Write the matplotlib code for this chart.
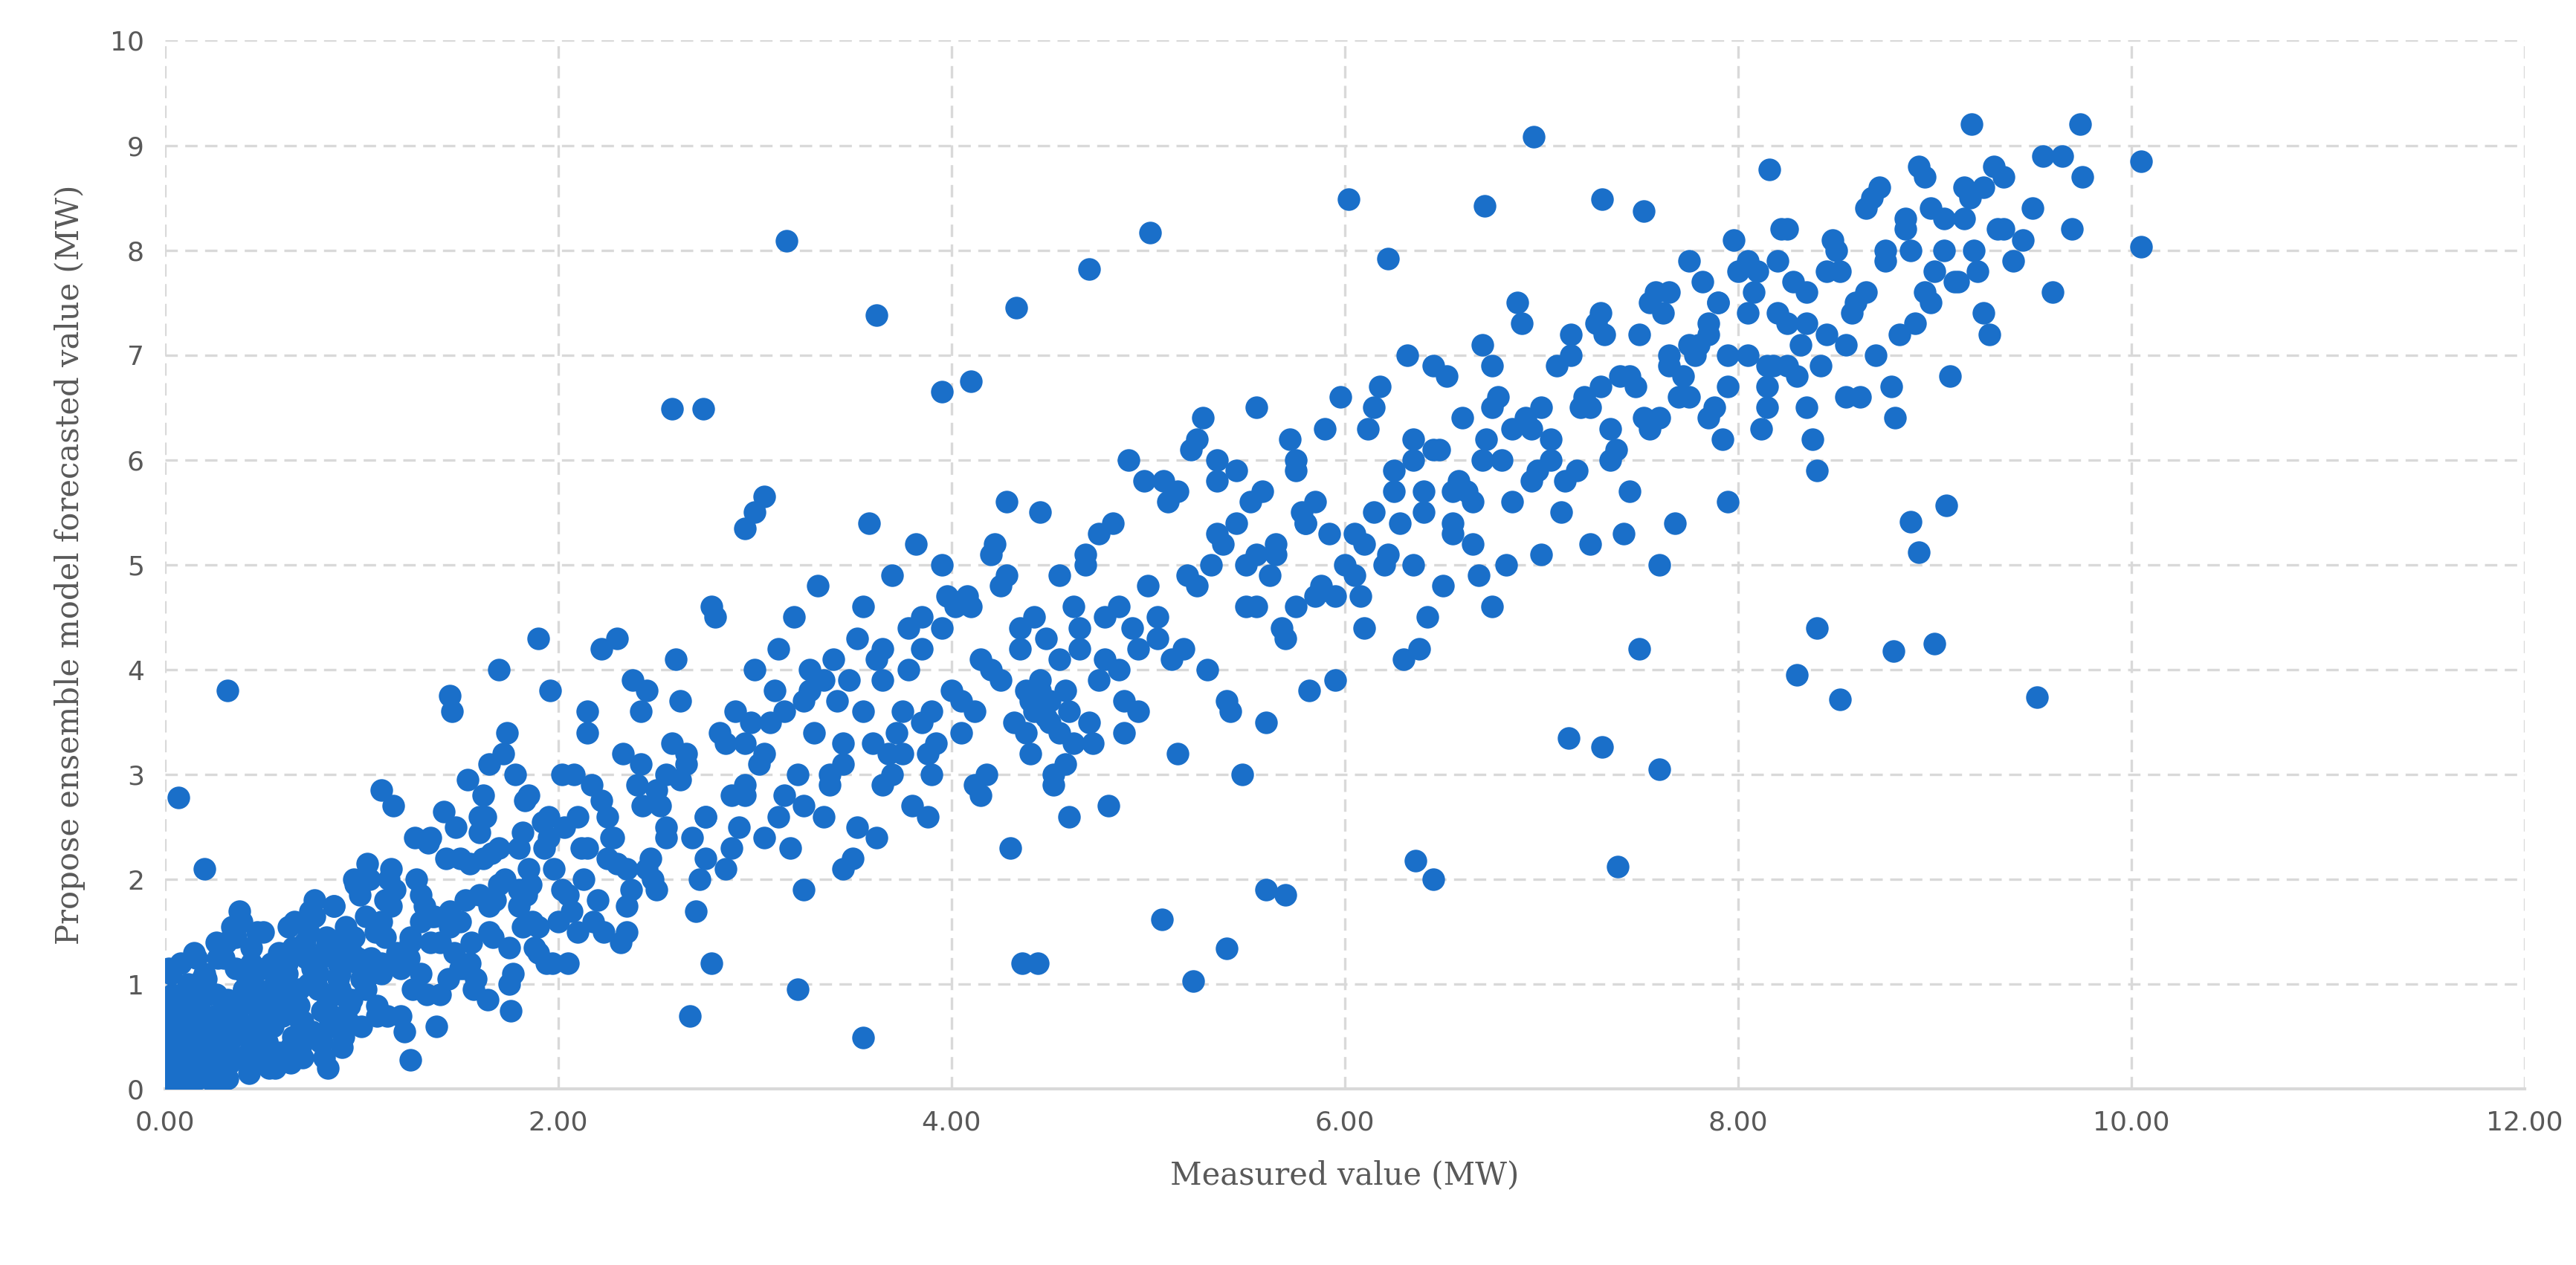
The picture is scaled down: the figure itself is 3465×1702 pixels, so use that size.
import matplotlib.pyplot as plt

# measured (MW) / forecast (MW) pairs
measured = [
    # dense cluster near the origin
    0.02, 0.03, 0.05, 0.04, 0.06, 0.08, 0.02, 0.03, 0.05, 0.07, 0.10, 0.12, 0.09, 0.04, 0.06,
    0.11, 0.14, 0.16, 0.18, 0.13, 0.20, 0.22, 0.25, 0.15, 0.19, 0.24, 0.28, 0.30, 0.33, 0.27,
    0.35, 0.38, 0.40, 0.42, 0.36, 0.45, 0.48, 0.50, 0.52, 0.44, 0.55, 0.58, 0.60, 0.62, 0.57,
    0.65, 0.68, 0.70, 0.72, 0.66, 0.75, 0.78, 0.80, 0.82, 0.77, 0.85, 0.88, 0.90, 0.92, 0.87,
    0.95, 0.98, 1.00, 1.02, 0.96, 0.03, 0.08, 0.12, 0.17, 0.22, 0.26, 0.31, 0.37, 0.41, 0.47,
    0.53, 0.59, 0.63, 0.69, 0.74, 0.81, 0.86, 0.93, 0.99, 1.05, 0.05, 0.10, 0.15, 0.21, 0.29,
    0.34, 0.43, 0.51, 0.61, 0.71, 0.79, 0.89, 0.97, 1.08, 1.12, 0.02, 0.06, 0.09, 0.13, 0.18,
    0.23, 0.32, 0.39, 0.46, 0.54, 0.64, 0.73, 0.84, 0.94, 1.04, 0.07, 0.11, 0.16, 0.26, 0.36,
    0.49, 0.56, 0.67, 0.76, 0.91, 0.04, 0.14, 0.25, 0.38, 0.52, 0.65, 0.83, 1.10, 0.20, 0.45,
    0.02, 0.04, 0.06, 0.08, 0.10, 0.12, 0.14, 0.16, 0.18, 0.20,
    0.22, 0.24, 0.26, 0.28, 0.30, 0.32, 0.34, 0.36, 0.38, 0.40,
    0.42, 0.44, 0.46, 0.48, 0.50, 0.52, 0.54, 0.56, 0.58, 0.60,
    0.62, 0.64, 0.66, 0.68, 0.70, 0.72, 0.74, 0.76, 0.78, 0.80,
    0.82, 0.84, 0.86, 0.88, 0.90, 0.92, 0.94, 0.96, 0.98, 1.00,
    0.05, 0.15, 0.25, 0.35, 0.45, 0.55, 0.65, 0.75, 0.85, 0.95,
    0.03, 0.09, 0.19, 0.29, 0.39, 0.49, 0.59, 0.69, 0.79, 0.89,
    0.01, 0.07, 0.13, 0.21, 0.33, 0.43, 0.53, 0.63, 0.73, 0.83,
    # 1 - 2.5 MW
    1.05, 1.10, 1.15, 1.20, 1.25, 1.30, 1.35, 1.40, 1.45, 1.50, 1.55, 1.60, 1.65, 1.70, 1.75,
    1.80, 1.85, 1.90, 1.95, 2.00, 1.08, 1.18, 1.28, 1.38, 1.48, 1.58, 1.68, 1.78, 1.88, 1.98,
    1.12, 1.22, 1.32, 1.42, 1.52, 1.62, 1.72, 1.82, 1.92, 2.02, 1.14, 1.24, 1.34, 1.44, 1.54,
    1.64, 1.74, 1.84, 1.94, 1.16, 1.26, 1.36, 1.46, 1.56, 1.66, 1.76, 1.86, 1.96, 1.03, 1.50,
    1.70, 1.30, 1.60, 1.90, 1.20, 1.40, 1.80, 1.10, 1.65, 1.45,
    1.02, 1.07, 1.13, 1.17, 1.23, 1.27, 1.33, 1.37, 1.43, 1.47,
    1.53, 1.57, 1.63, 1.67, 1.73, 1.77, 1.83, 1.87, 1.93, 1.97,
    2.03, 2.07, 2.13, 2.17, 2.23, 2.27, 2.33, 2.37, 2.43, 2.47,
    1.05, 1.25, 1.45, 1.65, 1.85, 2.05, 2.25, 2.45, 1.35, 1.55,
    1.15, 1.75, 1.95, 2.15, 2.35, 1.62, 1.82, 2.02, 2.22, 2.42,
    1.10, 1.30, 1.50, 1.70, 1.90, 2.10, 2.30, 2.50, 1.60, 1.80,
    # 2 - 3 MW
    2.05, 2.10, 2.15, 2.20, 2.25, 2.30, 2.35, 2.40, 2.45, 2.50, 2.55, 2.60, 2.65, 2.70, 2.75,
    2.80, 2.85, 2.90, 2.95, 3.00, 2.08, 2.18, 2.28, 2.38, 2.48, 2.58, 2.68, 2.78, 2.88, 2.98,
    2.12, 2.22, 2.32, 2.42, 2.52, 2.62, 2.72, 2.82, 2.92, 2.15, 2.35, 2.55, 2.75, 2.95,
    # 3 - 4 MW
    3.05, 3.10, 3.15, 3.20, 3.25, 3.30, 3.35, 3.40, 3.45, 3.50, 3.55, 3.60, 3.65, 3.70, 3.75,
    3.80, 3.85, 3.90, 3.95, 4.00, 3.08, 3.18, 3.28, 3.38, 3.48, 3.58, 3.68, 3.78, 3.88, 3.98,
    3.12, 3.22, 3.32, 3.42, 3.52, 3.62, 3.72, 3.82, 3.92, 3.25, 3.45, 3.65, 3.85,
    # 4 - 5 MW
    4.05, 4.10, 4.15, 4.20, 4.25, 4.30, 4.35, 4.40, 4.45, 4.50, 4.55, 4.60, 4.65, 4.70, 4.75,
    4.80, 4.85, 4.90, 4.95, 5.00, 4.08, 4.18, 4.28, 4.38, 4.48, 4.58, 4.68, 4.78, 4.88, 4.98,
    4.12, 4.22, 4.32, 4.42, 4.52, 4.62, 4.72, 4.82, 4.92, 4.40, 4.50, 4.60, 4.45, 4.55,
    # 2.5 - 5 MW, extra
    2.55, 2.65, 2.75, 2.85, 2.95, 3.05, 3.15, 3.25, 3.35, 3.45,
    3.55, 3.65, 3.75, 3.85, 3.95, 4.05, 4.15, 4.25, 4.35, 4.45,
    4.55, 4.65, 4.75, 4.85, 4.95, 2.62, 2.88, 3.12, 3.38, 3.62,
    3.88, 4.12, 4.38, 4.62, 4.88, 3.02, 3.28, 3.52, 3.78, 4.02,
    4.28, 4.52, 4.78, 4.42, 4.58, 4.48, 4.68, 3.70, 3.90, 4.20,
    # 5 - 6 MW
    5.05, 5.10, 5.15, 5.20, 5.25, 5.30, 5.35, 5.40, 5.45, 5.50, 5.55, 5.60, 5.65, 5.70, 5.75,
    5.80, 5.85, 5.90, 5.95, 6.00, 5.08, 5.18, 5.28, 5.38, 5.48, 5.58, 5.68, 5.78, 5.88, 5.98,
    5.12, 5.22, 5.32, 5.42, 5.52, 5.62, 5.72, 5.82, 5.92, 5.35, 5.55, 5.75,
    # 6 - 7 MW
    6.05, 6.10, 6.15, 6.20, 6.25, 6.30, 6.35, 6.40, 6.45, 6.50, 6.55, 6.60, 6.65, 6.70, 6.75,
    6.80, 6.85, 6.90, 6.95, 7.00, 6.08, 6.18, 6.28, 6.38, 6.48, 6.58, 6.68, 6.78, 6.88, 6.98,
    6.12, 6.22, 6.32, 6.42, 6.52, 6.62, 6.72, 6.82, 6.92, 6.35, 6.55, 6.75,
    # 7 - 8 MW
    7.05, 7.10, 7.15, 7.20, 7.25, 7.30, 7.35, 7.40, 7.45, 7.50, 7.55, 7.60, 7.65, 7.70, 7.75,
    7.80, 7.85, 7.90, 7.95, 8.00, 7.08, 7.18, 7.28, 7.38, 7.48, 7.58, 7.68, 7.78, 7.88, 7.98,
    7.12, 7.22, 7.32, 7.42, 7.52, 7.62, 7.72, 7.82, 7.92, 7.85, 7.95, 7.75, 7.65,
    # 8 - 9.8 MW
    8.05, 8.10, 8.15, 8.20, 8.25, 8.30, 8.35, 8.40, 8.45, 8.50, 8.55, 8.60, 8.65, 8.70, 8.75,
    8.80, 8.85, 8.90, 8.95, 9.00, 8.08, 8.18, 8.28, 8.38, 8.48, 8.58, 8.68, 8.78, 8.88, 8.98,
    8.12, 8.22, 8.32, 8.42, 8.52, 8.62, 8.72, 8.82, 8.92, 9.05, 9.10, 9.15, 9.20, 9.25, 9.30,
    9.35, 9.40, 9.50, 9.60, 9.65, 9.70, 9.75, 9.08, 9.18, 9.28, 8.05, 8.15, 8.25, 8.35,
    # 5 - 9.5 MW, extra
    5.05, 5.25, 5.45, 5.65, 5.85, 6.05, 6.25, 6.45, 6.65, 6.85,
    7.05, 7.25, 7.45, 7.65, 7.85, 8.05, 8.25, 8.45, 8.65, 8.85,
    5.15, 5.35, 5.55, 5.75, 5.95, 6.15, 6.35, 6.55, 6.75, 6.95,
    7.15, 7.35, 7.55, 7.75, 7.95, 8.15, 8.35, 8.55, 8.75, 8.95,
    9.05, 9.15, 9.25, 9.35, 9.45, 9.55, 9.22, 9.12, 8.98, 9.32,
    5.50, 5.80, 6.10, 6.40, 6.70, 7.00, 7.30, 7.60, 7.90, 8.20,
    # scattered outliers
    6.96, 10.05, 10.05, 9.74, 3.16, 4.70, 3.62, 4.33, 2.58, 2.74, 0.07, 0.32, 3.55, 5.23,
    7.39, 9.52, 8.52, 8.79, 5.07, 5.40, 2.78, 2.67, 4.36, 4.44, 6.36, 6.45, 7.14, 7.31,
    8.92, 8.88, 9.06, 6.02, 6.22, 5.01, 6.71, 7.31, 7.52, 8.16, 9.19, 3.22, 3.00, 3.05,
    2.95, 3.95, 4.10, 5.60, 5.70, 7.60, 7.50, 8.40, 8.30, 1.25, 9.00,
]
forecast = [
    0.05, 0.30, 0.60, 0.90, 0.15, 0.45, 0.75, 1.10, 0.20, 0.50, 0.35, 0.65, 0.80, 0.02, 0.10,
    0.55, 0.25, 0.70, 0.40, 0.95, 0.15, 0.60, 0.35, 0.85, 1.05, 0.45, 0.20, 0.75, 0.55, 1.25,
    0.30, 0.65, 0.95, 0.50, 1.15, 0.25, 0.70, 0.45, 0.90, 1.35, 0.60, 0.35, 0.80, 1.20, 1.05,
    0.50, 0.95, 0.65, 1.30, 0.85, 0.55, 1.10, 0.75, 1.45, 1.00, 0.70, 1.20, 0.90, 1.55, 1.35,
    0.85, 1.25, 1.05, 1.65, 1.45, 0.40, 0.80, 1.00, 0.10, 0.90, 0.60, 1.40, 0.30, 1.10, 1.50,
    0.20, 1.00, 1.55, 0.40, 1.70, 0.30, 1.75, 0.65, 1.85, 1.15, 0.75, 0.05, 1.30, 1.05, 0.10,
    1.55, 0.15, 1.15, 0.75, 1.40, 0.45, 0.95, 1.95, 0.70, 1.80, 1.15, 0.25, 0.50, 0.40, 1.00,
    0.50, 0.85, 1.60, 0.60, 1.20, 0.25, 1.50, 0.90, 1.45, 2.00, 0.55, 0.85, 1.25, 1.40, 0.75,
    0.35, 1.00, 0.30, 1.65, 0.50, 0.15, 0.55, 0.05, 1.70, 0.45, 1.35, 0.20, 1.20, 2.10, 0.25,
    0.45, 0.85, 0.25, 1.20, 0.55, 0.05, 0.95, 0.35, 0.75, 1.10,
    0.15, 0.60, 0.90, 0.40, 1.25, 0.10, 0.70, 1.45, 0.30, 0.95,
    0.60, 1.20, 0.30, 0.85, 1.50, 0.45, 0.95, 0.20, 1.30, 0.70,
    1.10, 0.40, 1.60, 0.80, 0.30, 1.25, 0.55, 1.80, 0.95, 0.45,
    1.35, 0.65, 1.75, 1.05, 0.40, 1.50, 0.80, 2.00, 1.20, 0.60,
    0.30, 0.50, 0.70, 0.50, 1.00, 0.75, 0.95, 1.15, 0.60, 1.30,
    0.65, 0.20, 0.30, 0.60, 0.80, 0.55, 1.05, 0.65, 1.25, 1.10,
    0.10, 0.55, 0.75, 0.45, 0.25, 0.35, 0.70, 0.90, 1.00, 0.85,
    # 1 - 2.5
    1.10, 1.60, 2.10, 0.70, 1.40, 1.85, 2.40, 0.90, 1.70, 2.20, 1.20, 2.60, 1.50, 2.30, 1.00,
    1.90, 2.80, 1.30, 2.40, 1.60, 0.80, 1.30, 2.00, 0.60, 2.50, 1.05, 1.80, 3.00, 1.35, 2.10,
    1.45, 0.55, 1.75, 2.65, 1.15, 2.20, 3.20, 1.55, 2.55, 1.90, 2.00, 1.25, 2.35, 1.05, 2.95,
    0.85, 3.40, 1.85, 1.20, 2.70, 0.95, 1.65, 3.60, 1.40, 2.25, 0.75, 1.95, 3.80, 2.15, 1.60,
    4.00, 1.10, 2.45, 4.30, 1.15, 1.40, 2.30, 2.85, 3.10, 3.75,
    0.95, 1.50, 0.70, 1.90, 1.20, 2.40, 0.90, 1.65, 2.20, 1.30,
    1.80, 0.95, 2.60, 1.45, 2.00, 1.10, 2.75, 1.60, 2.30, 1.20,
    2.50, 1.70, 2.00, 2.90, 1.50, 2.40, 3.20, 1.90, 2.70, 2.20,
    1.25, 1.45, 1.55, 1.75, 2.10, 1.85, 2.60, 2.10, 1.40, 2.15,
    1.75, 1.35, 2.60, 2.30, 1.75, 2.80, 2.45, 3.00, 2.75, 3.60,
    1.10, 1.60, 1.15, 1.95, 1.55, 1.50, 2.15, 2.85, 1.85, 1.75,
    # 2 - 3
    1.20, 2.60, 3.40, 1.80, 2.20, 4.30, 1.50, 2.90, 3.80, 1.90, 2.50, 4.10, 3.20, 1.70, 2.60,
    4.50, 2.10, 3.60, 2.90, 4.00, 3.00, 1.60, 2.40, 3.90, 2.00, 3.30, 2.40, 4.60, 2.80, 3.50,
    2.30, 4.20, 1.40, 3.10, 2.70, 3.70, 2.00, 3.40, 2.50, 3.60, 2.10, 3.00, 2.20, 3.30,
    # 3 - 4
    2.40, 3.80, 2.80, 4.50, 1.90, 3.40, 2.60, 4.10, 3.10, 2.20, 4.60, 3.30, 2.90, 4.90, 3.60,
    2.70, 4.20, 3.00, 5.00, 3.80, 3.50, 2.30, 4.00, 2.90, 3.90, 5.40, 3.20, 4.40, 2.60, 4.70,
    4.20, 3.00, 4.80, 3.70, 2.50, 4.10, 3.40, 5.20, 3.30, 3.70, 2.10, 3.90, 4.50,
    # 4 - 5
    3.40, 4.60, 2.80, 5.10, 3.90, 2.30, 4.40, 3.20, 5.50, 3.70, 4.90, 2.60, 4.20, 3.50, 5.30,
    2.70, 4.00, 6.00, 3.60, 4.80, 4.70, 3.00, 5.60, 3.80, 4.30, 3.10, 5.00, 4.10, 3.40, 5.80,
    3.60, 5.20, 3.50, 4.50, 2.90, 4.60, 3.30, 5.40, 4.40, 3.70, 3.50, 3.60, 3.80, 3.40,
    # 2.5 - 5, extra
    2.40, 3.10, 2.60, 3.30, 2.80, 3.20, 3.60, 2.70, 3.90, 3.30,
    3.60, 4.20, 3.20, 3.50, 4.40, 3.70, 4.10, 4.80, 4.20, 3.90,
    4.10, 4.40, 3.90, 4.60, 4.20, 2.95, 2.30, 2.60, 3.00, 2.40,
    3.20, 2.90, 3.40, 3.30, 3.70, 3.10, 3.80, 4.30, 4.00, 4.60,
    4.90, 3.00, 4.50, 3.60, 3.80, 3.55, 5.10, 3.00, 3.60, 4.00,
    # 5 - 6
    4.50, 5.60, 3.20, 4.90, 6.20, 4.00, 5.30, 3.70, 5.90, 4.60, 6.50, 3.50, 5.10, 4.30, 6.00,
    5.40, 4.70, 6.30, 3.90, 5.00, 5.80, 4.20, 6.40, 5.20, 3.00, 5.70, 4.40, 5.50, 4.80, 6.60,
    4.10, 6.10, 5.00, 3.60, 5.60, 4.90, 6.20, 3.80, 5.30, 5.80, 5.10, 4.60,
    # 6 - 7
    5.30, 4.40, 6.50, 5.00, 5.90, 4.10, 6.20, 5.50, 6.90, 4.80, 5.70, 6.40, 5.20, 7.10, 4.60,
    6.00, 5.60, 7.30, 6.30, 5.10, 4.70, 6.70, 5.40, 4.20, 6.10, 5.80, 4.90, 6.60, 7.50, 5.90,
    6.30, 5.10, 7.00, 4.50, 6.80, 5.70, 6.20, 5.00, 6.40, 6.00, 5.40, 6.90,
    # 7 - 8
    6.20, 5.50, 7.00, 6.50, 5.20, 7.40, 6.00, 6.80, 5.70, 7.20, 6.30, 5.00, 7.60, 6.60, 7.90,
    7.10, 6.40, 7.50, 5.60, 7.80, 6.90, 5.90, 7.30, 6.10, 6.70, 7.60, 5.40, 7.00, 6.50, 8.10,
    5.80, 6.60, 7.20, 5.30, 6.40, 7.40, 6.80, 7.70, 6.20, 7.30, 6.70, 7.10, 6.90,
    # 8 - 9.8
    7.00, 7.80, 6.50, 7.40, 8.20, 6.80, 7.60, 5.90, 7.20, 8.00, 6.60, 7.50, 8.40, 7.00, 7.90,
    6.40, 8.30, 7.30, 8.70, 7.80, 7.60, 6.90, 7.70, 6.20, 8.10, 7.40, 8.50, 6.70, 8.00, 7.50,
    6.30, 8.20, 7.10, 6.90, 7.80, 6.60, 8.60, 7.20, 8.80, 8.30, 7.70, 8.60, 8.00, 7.40, 8.80,
    8.20, 7.90, 8.40, 7.60, 8.90, 8.20, 8.70, 6.80, 8.50, 7.20, 7.90, 6.90, 7.30, 6.50,
    # 5 - 9.5, extra
    4.30, 4.80, 5.40, 5.20, 5.60, 4.90, 5.70, 6.10, 5.60, 6.30,
    6.00, 6.50, 6.80, 7.00, 7.20, 7.40, 6.90, 7.80, 7.60, 8.20,
    5.70, 6.00, 4.60, 5.90, 4.70, 5.50, 5.00, 5.30, 6.50, 5.80,
    7.20, 6.30, 7.50, 6.60, 7.00, 6.70, 7.30, 7.10, 8.00, 7.60,
    8.00, 8.30, 8.60, 8.70, 8.10, 8.90, 7.80, 7.70, 8.40, 8.20,
    5.00, 5.40, 5.20, 5.70, 6.00, 6.50, 6.70, 6.40, 7.50, 7.90,
    # outliers
    9.08, 8.85, 8.03, 9.20, 8.09, 7.82, 7.38, 7.45, 6.49, 6.49, 2.78, 3.80, 0.49, 1.03,
    2.12, 3.74, 3.72, 4.18, 1.62, 1.34, 1.20, 0.70, 1.20, 1.20, 2.18, 2.00, 3.35, 3.26,
    5.12, 5.41, 5.57, 8.49, 7.92, 8.17, 8.42, 8.49, 8.37, 8.77, 9.20, 0.95, 5.50, 5.65,
    5.35, 6.65, 6.75, 1.90, 1.85, 3.05, 4.20, 4.40, 3.95, 0.28, 4.25,
]

x_ticks = [0, 2, 4, 6, 8, 10, 12]
y_ticks = list(range(0, 11))

fig = plt.figure(figsize=(17.325, 8.51), dpi=200)
ax = fig.add_axes([0.064, 0.139, 0.916, 0.829])

ax.scatter(measured, forecast, s=120, color='#1a6fc9', linewidths=0, zorder=3)

ax.set_xlim(0, 12)
ax.set_ylim(0, 10)
ax.set_xticks(x_ticks)
ax.set_xticklabels(['%.2f' % t for t in x_ticks])
ax.set_yticks(y_ticks)
ax.grid(True, color='#d9d9d9', linestyle=(0, (5, 3)), linewidth=1.2)
for s in ['top', 'right', 'left']:
    ax.spines[s].set_visible(False)
ax.spines['bottom'].set_color('#d9d9d9')
ax.spines['bottom'].set_linewidth(1.5)
ax.tick_params(length=0, labelsize=13, colors='#595959', pad=10)

ax.set_xlabel('Measured value (MW)', family='serif', fontsize=15, color='#595959', labelpad=12)
ax.set_ylabel('Propose ensemble model forecasted value (MW)', family='serif', fontsize=15,
              color='#595959', labelpad=12)

fig.savefig('out.png')
